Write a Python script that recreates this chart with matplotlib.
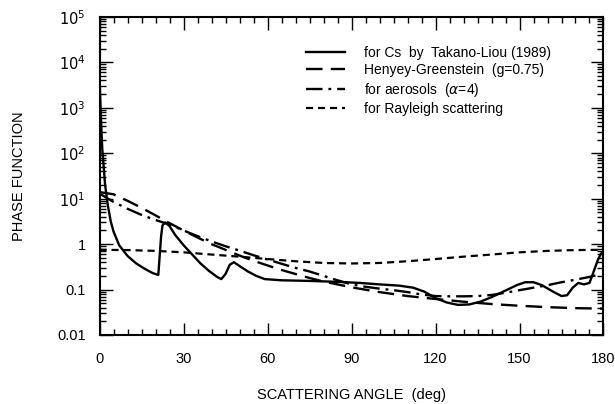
import matplotlib
matplotlib.use('Agg')
import matplotlib.pyplot as plt
from matplotlib.ticker import LogLocator, MultipleLocator, FixedLocator, NullFormatter

plt.rcParams['font.family'] = ['Liberation Sans', 'DejaVu Sans']

# ── data ────────────────────────────────────────────────────────────────────
cs_angle = [0, 0.5, 1, 2, 3, 4, 5, 7, 10, 13, 16, 19, 21, 22, 22.5, 23.5, 25, 27,
            30, 33, 36, 39, 42, 43.5, 45, 46.5, 48, 50, 53, 56, 59, 65, 75, 85, 93,
            100, 107, 112, 116, 120, 124, 128, 132, 136, 140, 145, 149, 152, 155,
            158, 162, 165, 167, 169, 171, 173, 175, 176.5, 178, 179, 180]
cs_phase = [5000, 600, 120, 20, 7, 3.2, 1.9, 0.95, 0.55, 0.38, 0.29, 0.23, 0.21, 1.5,
            2.6, 3.0, 2.5, 1.6, 0.95, 0.6, 0.38, 0.26, 0.19, 0.17, 0.22, 0.35, 0.40,
            0.33, 0.25, 0.20, 0.17, 0.16, 0.155, 0.148, 0.14, 0.13, 0.122, 0.11,
            0.09, 0.065, 0.052, 0.046, 0.047, 0.054, 0.068, 0.095, 0.125, 0.145,
            0.145, 0.125, 0.09, 0.072, 0.075, 0.11, 0.14, 0.13, 0.14, 0.25, 0.45,
            0.6, 0.7]

hg_angle = [0, 5, 10, 15, 20, 25, 30, 35, 40, 45, 50, 55, 60, 65, 70, 75, 80, 85,
            90, 100, 110, 120, 130, 140, 150, 160, 170, 180]
hg_phase = [14, 12.5, 9, 6.3, 4.3, 2.9, 2.0, 1.4, 1.0, 0.75, 0.56, 0.43, 0.34, 0.27,
            0.22, 0.18, 0.15, 0.13, 0.112, 0.088, 0.072, 0.062, 0.054, 0.048,
            0.044, 0.041, 0.039, 0.038]

aer_angle = [0, 5, 10, 15, 20, 25, 30, 35, 40, 45, 50, 55, 60, 65, 70, 75, 80, 85,
             90, 95, 100, 105, 110, 115, 120, 125, 130, 135, 140, 145, 150, 155,
             160, 165, 170, 175, 178]
aer_phase = [13, 8.5, 6.0, 4.4, 3.4, 2.7, 2.0, 1.5, 1.15, 0.9, 0.72, 0.57, 0.46,
             0.37, 0.30, 0.25, 0.20, 0.16, 0.13, 0.115, 0.105, 0.097, 0.088, 0.078,
             0.072, 0.071, 0.071, 0.072, 0.076, 0.085, 0.097, 0.11, 0.125, 0.145,
             0.165, 0.19, 0.21]

ray_angle = [0, 10, 20, 30, 40, 50, 60, 70, 80, 90, 100, 110, 120, 130, 140, 150,
             160, 170, 180]
ray_phase = [0.75, 0.74, 0.71, 0.66, 0.59, 0.53, 0.47, 0.42, 0.385, 0.375, 0.385,
             0.42, 0.47, 0.53, 0.59, 0.66, 0.71, 0.74, 0.75]

y_ticks = [0.01, 0.1, 1, 10, 100, 1e3, 1e4, 1e5]
y_ticklabels = ['0.01', '0.1', '1', r'$10^1$', r'$10^2$', r'$10^3$', r'$10^4$', r'$10^5$']
x_ticks = [0, 30, 60, 90, 120, 150, 180]

# ── figure ──────────────────────────────────────────────────────────────────
fig = plt.figure(figsize=(6.15, 4.04), dpi=100)
ax = fig.add_axes([0.1618, 0.1708, 0.8195, 0.7872])

ax.plot(cs_angle, cs_phase, color='black', lw=1.7, ls='-',
        label='for Cs  by  Takano-Liou (1989)')
ax.plot(hg_angle, hg_phase, color='black', lw=1.7, ls=(0, (7, 3.5)),
        label='Henyey-Greenstein  (g=0.75)')
ax.plot(aer_angle, aer_phase, color='black', lw=1.7, ls=(0, (7, 2.5, 1.2, 2.5)),
        label=r'for aerosols  ($\alpha$=4)')
ax.plot(ray_angle, ray_phase, color='black', lw=1.6, ls=(0, (3.2, 2.2)),
        label='for Rayleigh scattering')

ax.set_yscale('log')
ax.set_xlim(0, 180)
ax.set_ylim(0.01, 1e5)

ax.xaxis.set_major_locator(FixedLocator(x_ticks))
ax.xaxis.set_minor_locator(MultipleLocator(5))
ax.set_xticklabels([str(v) for v in x_ticks], fontsize=10.5)

ax.yaxis.set_major_locator(FixedLocator(y_ticks))
ax.yaxis.set_minor_locator(LogLocator(base=10, subs=range(2, 10), numticks=20))
ax.yaxis.set_minor_formatter(NullFormatter())
ax.set_yticklabels(y_ticklabels, fontsize=10.5)

ax.tick_params(which='both', direction='in', top=True, right=True, width=1.0)
ax.tick_params(which='major', length=9, pad=12)
ax.tick_params(which='minor', length=4)
ax.tick_params(axis='y', which='major', pad=10)

for spine in ax.spines.values():
    spine.set_linewidth(1.5)

ax.set_xlabel('SCATTERING ANGLE  (deg)', fontsize=10.5, labelpad=16)
ax.set_ylabel('PHASE FUNCTION', fontsize=10.5, labelpad=22)

ax.legend(loc='upper left', bbox_to_anchor=(0.39, 0.94), frameon=False,
          fontsize=10, handlelength=2.8, handletextpad=1.4, labelspacing=0.25,
          borderpad=0.2)

fig.savefig('out.png', dpi=100, facecolor='white')
